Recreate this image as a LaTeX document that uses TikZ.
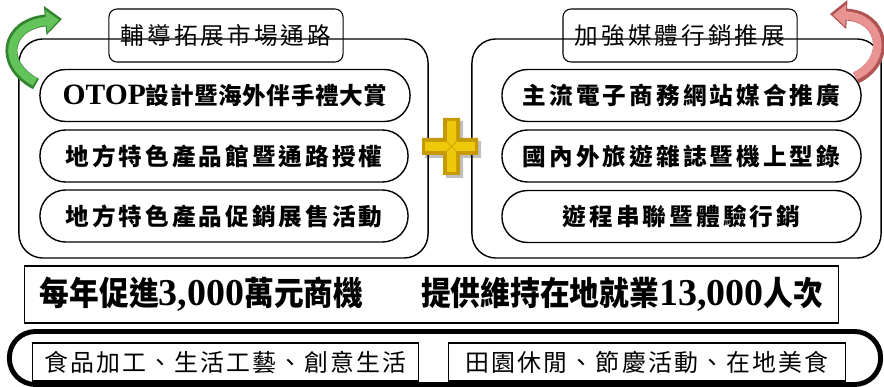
\documentclass[tikz,border=0pt]{standalone}
\usepackage{fontspec}
\setmainfont{Noto Sans CJK TC}
\newfontfamily\cjkpill{Noto Sans CJK TC}[LetterSpace=13]
\newfontfamily\cjkotop{Noto Sans CJK TC}[LetterSpace=2.5]
\newfontfamily\cjkfoot{Noto Sans CJK TC}[LetterSpace=9]
\newfontfamily\cjkbanner{Noto Sans CJK TC}[FakeStretch=0.9]
\newfontfamily\romfont{Liberation Serif}
\usetikzlibrary{arrows.meta}

\definecolor{arrowgreen}{RGB}{100,196,92}
\definecolor{arrowgreendark}{RGB}{52,132,50}
\definecolor{arrowpink}{RGB}{232,146,146}
\definecolor{arrowpinkdark}{RGB}{176,84,84}
\definecolor{plusgold}{RGB}{238,200,10}
\definecolor{plusgolddark}{RGB}{196,154,0}

\newcommand{\pillfont}{\fontsize{16.8}{20}\selectfont\bfseries\cjkpill}
\newcommand{\headfont}{\fontsize{16.8}{20}\selectfont\cjkpill}
\newcommand{\footfont}{\fontsize{17}{20}\selectfont\cjkfoot}
\newcommand{\bannerfont}{\fontsize{23.5}{26}\selectfont\bfseries\cjkbanner}
\newcommand{\bannernum}[1]{{\fontsize{27}{30}\selectfont\bfseries\romfont #1}}

\begin{document}
\begin{tikzpicture}[x=0.025cm,y=-0.025cm,
  outerframe/.style={draw,line width=1pt,rounded corners=0.6cm,minimum width=10.225cm,minimum height=5.475cm,inner sep=0pt},
  headbox/.style={draw,line width=0.75pt,rounded corners=0.2cm,minimum width=5.85cm,minimum height=1.325cm,inner sep=0pt},
  pill/.style={draw,line width=1pt,rounded corners=0.64cm,minimum height=1.3cm,inner sep=0pt},
  flatbox/.style={draw,line width=0.75pt,inner sep=0pt,minimum height=0.95cm}]

   \useasboundingbox (0,0) rectangle (884,387);

   % two strategy frames with their headings
   \node[outerframe] (leftframe) at (223.5,148.5) {};
   \node[outerframe] (rightframe) at (676.5,148.5) {};
   \node[headbox] (lefthead) at (226,35.5) {\headfont 輔導拓展市場通路};
   \node[headbox] (righthead) at (680,35.5) {\headfont 加強媒體行銷推展};

   % left items
   \node[pill,minimum width=9.25cm] (otop) at (225,95.5) {{\fontsize{21}{24}\selectfont\bfseries\romfont OTOP}{\fontsize{16.8}{20}\selectfont\bfseries\cjkotop 設計暨海外伴手禮大賞}};
   \node[pill,minimum width=9.2cm] (shop) at (224,156) {\pillfont 地方特色產品館暨通路授權};
   \node[pill,minimum width=9.2cm] (fair) at (224,216) {\pillfont 地方特色產品促銷展售活動};

   % right items
   \node[pill,minimum width=8.975cm] (web) at (681.5,95.5) {\pillfont 主流電子商務網站媒合推廣};
   \node[pill,minimum width=8.975cm] (mag) at (681.5,156) {\pillfont 國內外旅遊雜誌暨機上型錄};
   \node[pill,minimum width=8.975cm] (tour) at (681.5,216.5) {\pillfont 遊程串聯暨體驗行銷};

   % result banner
   \node[draw,line width=0.75pt,minimum width=20.325cm,minimum height=1.425cm,inner sep=0pt] (banner) at (431.5,294.5)
      {\bannerfont 每年促進\bannernum{3,000}萬元商機\hspace{1.45cm}提供維持在地就業\bannernum{13,000}人次};

   % sectors
   \node[draw,line width=3.5pt,rounded corners=0.65cm,minimum width=21.775cm,minimum height=1.325cm] (sector) at (445,358) {};
   \node[flatbox,minimum width=9.625cm] (food) at (225.5,362) {\footfont 食品加工、生活工藝、創意生活};
   \node[flatbox,minimum width=9.9cm] (leisure) at (647,362) {\footfont 田園休閒、節慶活動、在地美食};

   % gold plus
   \fill[black,opacity=0.25] (446,121) -- (463,121) -- (463,141) -- (481,141) -- (481,158) -- (463,158) -- (463,178) -- (446,178) -- (446,158) -- (425,158) -- (425,141) -- (446,141) -- cycle;
   \fill[plusgolddark] (443,118) -- (460,118) -- (460,138) -- (478,138) -- (478,155) -- (460,155) -- (460,175) -- (443,175) -- (443,155) -- (422,155) -- (422,138) -- (443,138) -- cycle;
   \fill[plusgold] (447,121) -- (456,121) -- (456,142) -- (475,142) -- (475,151) -- (456,151) -- (456,172) -- (447,172) -- (447,151) -- (425,151) -- (425,142) -- (447,142) -- cycle;
   \draw[plusgolddark,line width=0.4pt] (447,142) -- (456,151) (456,142) -- (447,151);

   % turn arrows
   \draw[arrowgreendark,line width=8.5pt,-{Triangle[length=12pt,width=20pt]}] (36,84) .. controls (-2,64) and (6,24) .. (62,19);
   \draw[arrowgreen,line width=6pt,-{Triangle[length=9pt,width=15pt]}] (35,82) .. controls (0,63) and (7,25) .. (59,20);
   \draw[arrowpinkdark,line width=8.5pt,-{Triangle[length=12pt,width=20pt]}] (856,78) .. controls (892,60) and (884,16) .. (830,14);
   \draw[arrowpink,line width=6pt,-{Triangle[length=9pt,width=15pt]}] (855,76) .. controls (890,60) and (882,17) .. (833,15);
\end{tikzpicture}
\end{document}
